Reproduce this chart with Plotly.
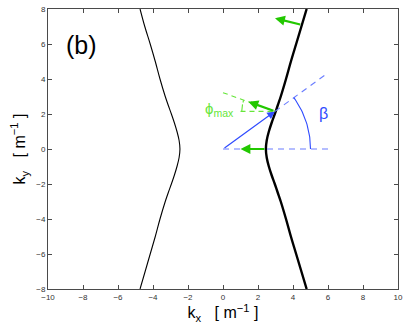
import numpy as np
import plotly.graph_objects as go

# dispersion curve (ky -> kx)
ky_pts = [-8, -7, -6, -5, -4, -3, -2.5, -2, -1.5, -1, -0.5, 0,
          0.5, 1, 1.5, 2, 2.5, 3, 4, 5, 6, 7, 8]
kx_right = [4.78, 4.48, 4.18, 3.88, 3.6, 3.3, 3.13, 2.96, 2.78, 2.62, 2.5, 2.45,
            2.5, 2.62, 2.78, 2.96, 3.13, 3.3, 3.6, 3.88, 4.18, 4.48, 4.78]
kx_left = [-4.74, -4.45, -4.16, -3.87, -3.6, -3.3, -3.13, -2.95, -2.78, -2.63, -2.51, -2.46,
           -2.51, -2.63, -2.78, -2.95, -3.13, -3.3, -3.6, -3.87, -4.16, -4.47, -4.74]

# wave vector k at angle beta, and normals (group velocity) on the curve
k_tip = [2.97, 2.15]
beta_deg = 36
beta_line_end = [6.0, 4.35]
hline_end = 6.0
arc_r = 5.0
normals = [  # (start on curve) -> (arrow head)
    ([2.97, 2.15], [1.45, 2.70]),
    ([2.45, 0.0], [1.0, 0.0]),
    ([4.50, 7.09], [2.97, 7.47]),
]
phi_line_end = [0.0, 3.22]
phi_hline_end = 1.0
phi_arc_r = 1.9
phi_deg = 19.5

BLUE = '#2f4bff'
BLUE_L = '#6a7dff'
GREEN = '#22c800'
GREEN_L = '#66e63a'
FONT = 'Liberation Sans'

fig = go.Figure()
fig.add_trace(go.Scatter(x=kx_left, y=ky_pts, mode='lines', line_shape='spline',
                         line=dict(color='black', width=1.1)))
fig.add_trace(go.Scatter(x=kx_right, y=ky_pts, mode='lines', line_shape='spline',
                         line=dict(color='black', width=2.4)))

# blue dashed lines
fig.add_trace(go.Scatter(x=[0, hline_end], y=[0, 0], mode='lines',
                         line=dict(color=BLUE_L, width=1.1, dash='6px,5px')))
fig.add_trace(go.Scatter(x=[k_tip[0], beta_line_end[0]], y=[k_tip[1], beta_line_end[1]], mode='lines',
                         line=dict(color=BLUE_L, width=1.1, dash='6px,5px')))
# beta arc
t = np.radians(np.linspace(0, beta_deg, 30))
fig.add_trace(go.Scatter(x=arc_r * np.cos(t), y=arc_r * np.sin(t), mode='lines',
                         line=dict(color=BLUE, width=1.1)))

# green dashed lines for phi_max
fig.add_trace(go.Scatter(x=[phi_line_end[0], k_tip[0]], y=[phi_line_end[1], k_tip[1]], mode='lines',
                         line=dict(color=GREEN_L, width=1.1, dash='5px,4px')))
fig.add_trace(go.Scatter(x=[phi_hline_end, k_tip[0]], y=[k_tip[1], k_tip[1]], mode='lines',
                         line=dict(color=GREEN_L, width=1.1, dash='5px,4px')))
tp = np.radians(np.linspace(180, 180 - phi_deg, 10))
fig.add_trace(go.Scatter(x=k_tip[0] + phi_arc_r * np.cos(tp), y=k_tip[1] + phi_arc_r * np.sin(tp),
                         mode='lines', line=dict(color=GREEN_L, width=1.1, dash='7px,2px')))

# blue k arrow
fig.add_annotation(x=k_tip[0], y=k_tip[1], ax=0, ay=0, xref='x', yref='y', axref='x', ayref='y',
                   showarrow=True, arrowhead=2, arrowsize=1.3, arrowwidth=1.2, arrowcolor=BLUE, text='')
# green normal arrows
for (s, e) in normals:
    fig.add_annotation(x=e[0], y=e[1], ax=s[0], ay=s[1], xref='x', yref='y', axref='x', ayref='y',
                       showarrow=True, arrowhead=2, arrowsize=0.9, arrowwidth=2.2, arrowcolor=GREEN, text='')

fig.add_annotation(x=5.75, y=2.05, text='β', showarrow=False,
                   font=dict(color=BLUE, size=16, family=FONT))
fig.add_annotation(x=-0.2, y=2.25, text='ϕ<sub>max</sub>', showarrow=False,
                   font=dict(color=GREEN_L, size=15, family=FONT))
fig.add_annotation(x=-8.1, y=5.95, text='(b)', showarrow=False,
                   font=dict(color='black', size=25, family=FONT))

ax_style = dict(showline=True, mirror='ticks', linecolor='#4a4a4a', linewidth=1, automargin=False,
                ticks='inside', ticklen=4, tickcolor='#4a4a4a', showgrid=False, zeroline=False,
                tickfont=dict(size=8, color='#333333', family=FONT))
fig.update_xaxes(range=[-10, 10], tickvals=list(range(-10, 11, 2)), **ax_style,
                 title=dict(text='k<sub>x</sub>   [ m<sup>−1</sup> ]', standoff=2,
                            font=dict(size=16, color='black', family=FONT)))
fig.update_yaxes(range=[-8, 8], tickvals=list(range(-8, 9, 2)), **ax_style,
                 title=dict(text='k<sub>y</sub>   [ m<sup>−1</sup> ]', standoff=6,
                            font=dict(size=16, color='black', family=FONT)))
fig.update_layout(width=407, height=325, margin=dict(l=48, r=9, t=9, b=36),
                  plot_bgcolor='white', paper_bgcolor='white', showlegend=False)
fig.write_html("out.html", config={'displayModeBar': False},
               post_script="document.body.style.margin='0px';")
